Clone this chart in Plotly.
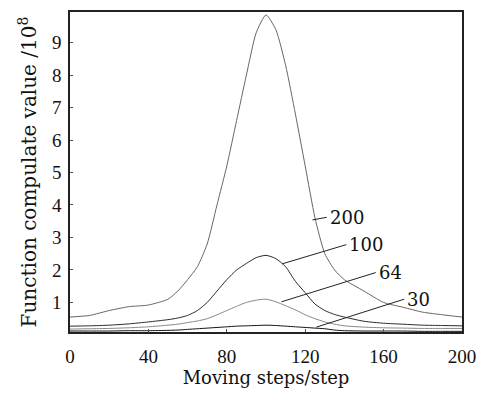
import plotly.graph_objects as go

steps = [0, 10, 20, 30, 40, 50, 55, 60, 65, 70, 75, 80, 85, 90, 95, 100, 105, 110, 115, 120, 125, 130, 135, 140, 150, 160, 170, 180, 190, 200]
v200 = [0.55, 0.6, 0.75, 0.87, 0.92, 1.1, 1.35, 1.7, 2.1, 2.8, 4.0, 5.2, 6.6, 8.0, 9.3, 9.85, 9.4, 8.3, 6.8, 5.2, 3.6, 2.5, 2.0, 1.7, 1.35, 1.0, 0.85, 0.7, 0.62, 0.55]
v100 = [0.27, 0.28, 0.3, 0.34, 0.4, 0.47, 0.52, 0.6, 0.75, 1.0, 1.35, 1.7, 2.0, 2.2, 2.38, 2.45, 2.35, 2.1, 1.65, 1.3, 0.95, 0.75, 0.63, 0.55, 0.42, 0.36, 0.33, 0.3, 0.29, 0.28]
v64 = [0.18, 0.19, 0.2, 0.22, 0.25, 0.3, 0.33, 0.38, 0.43, 0.5, 0.62, 0.75, 0.88, 1.0, 1.07, 1.1, 1.02, 0.9, 0.77, 0.62, 0.5, 0.4, 0.33, 0.28, 0.24, 0.22, 0.21, 0.2, 0.2, 0.2]
v30 = [0.12, 0.12, 0.12, 0.13, 0.13, 0.14, 0.15, 0.17, 0.19, 0.21, 0.23, 0.25, 0.27, 0.28, 0.29, 0.3, 0.29, 0.27, 0.25, 0.23, 0.21, 0.19, 0.15, 0.13, 0.12, 0.12, 0.12, 0.11, 0.11, 0.11]

series = [("200", v200, "#666666"), ("100", v100, "#2a2a2a"), ("64", v64, "#888888"), ("30", v30, "#111111")]

# label text positions and leader line start points (on curves)
label_names = ["200", "100", "64", "30"]
label_x = [131.5, 141.5, 156.5, 171.0]
label_y = [3.62, 2.78, 1.92, 1.1]
leader_x0 = [123.7, 108.4, 107.9, 125.7]
leader_y0 = [3.54, 2.19, 1.02, 0.24]

tick_font = "Liberation Serif"
title_font = "DejaVu Serif"

fig = go.Figure()
for name, vals, col in series:
    fig.add_trace(go.Scatter(x=steps, y=vals, mode="lines", name=name,
                             line=dict(color=col, width=1, shape="spline", smoothing=0.6),
                             showlegend=False))

for n, tx, ty, lx, ly in zip(label_names, label_x, label_y, leader_x0, leader_y0):
    fig.add_shape(type="line", x0=lx, y0=ly, x1=tx - 0.5, y1=ty, xref="x", yref="y",
                  line=dict(color="#222222", width=1))
    fig.add_annotation(x=tx, y=ty, text=n, showarrow=False, xanchor="left", yanchor="middle",
                       font=dict(family=title_font, size=18, color="#111111"))

axis_common = dict(showgrid=False, zeroline=False, showline=True, linecolor="#222222", linewidth=1.5,
                   mirror=True, ticks="inside", ticklen=3, tickcolor="#555555",
                   tickfont=dict(family=tick_font, size=19, color="#111111"))

fig.update_xaxes(range=[0, 200], tickvals=[0, 40, 80, 120, 160, 200], ticklabelstandoff=6,
                 title=dict(text="Moving steps/step", font=dict(family=title_font, size=18, color="#111111"), standoff=4),
                 **axis_common)
fig.update_yaxes(range=[0.09, 9.94], tickvals=[1, 2, 3, 4, 5, 6, 7, 8, 9], ticklabelstandoff=3,
                 title=dict(text="Function compulate value /10<sup>8</sup>", font=dict(family=title_font, size=20, color="#111111"), standoff=10),
                 **axis_common)

fig.update_layout(width=486, height=393, margin=dict(l=70, r=23, t=10, b=55),
                  paper_bgcolor="white", plot_bgcolor="white")

fig.write_html("out.html")
